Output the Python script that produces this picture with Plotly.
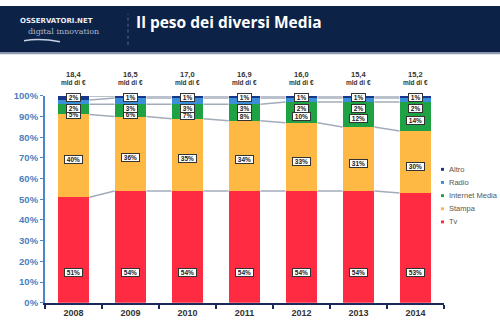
import plotly.graph_objects as go

years = ["2008", "2009", "2010", "2011", "2012", "2013", "2014"]
totals = ["18,4", "16,5", "17,0", "16,9", "16,0", "15,4", "15,2"]
tv = [51, 54, 54, 54, 54, 54, 53]
stampa = [40, 36, 35, 34, 33, 31, 30]
internet = [5, 6, 7, 8, 10, 12, 14]
radio = [2, 3, 3, 3, 2, 2, 2]
altro = [2, 1, 1, 1, 1, 1, 1]

series = [
    ("Tv", tv, "#ff2b42"),
    ("Stampa", stampa, "#fdb944"),
    ("Internet Media", internet, "#1ea243"),
    ("Radio", radio, "#3b8ed8"),
    ("Altro", altro, "#17378b"),
]

W, H = 500, 328
BARW = 0.56
xs = list(range(len(years)))
YD0, YD1 = (H - 307) / H, (H - 93) / H


def ypaper(v):
    return YD0 + v / 100 * (YD1 - YD0)


fig = go.Figure()

for name, vals, col in series:
    fig.add_trace(go.Bar(x=xs, y=vals, name=name, width=BARW,
                         marker=dict(color=col, line=dict(width=0)),
                         hoverinfo="skip", showlegend=False))

cums = []
run = [0] * len(years)
for name, vals, col in series:
    run = [a + b for a, b in zip(run, vals)]
    cums.append(list(run))

lx, ly = [], []
for lev in cums:
    for i in range(len(years) - 1):
        lx += [xs[i] + BARW / 2, xs[i + 1] - BARW / 2, None]
        ly += [lev[i], lev[i + 1], None]
fig.add_trace(go.Scatter(x=lx, y=ly, mode="lines", showlegend=False, cliponaxis=False,
                         line=dict(color="#a3abbb", width=1.5), hoverinfo="skip"))

ann = []
lab_font = dict(family="Liberation Sans, Arial", size=6.5, color="#222222")
NB = "\u00a0"


def lab(x, y, v):
    ann.append(dict(x=x, y=ypaper(y), xref="x", yref="paper", text=f"{NB}<b>{v}%</b>{NB}", showarrow=False,
                    font=lab_font, bgcolor="white", bordercolor="#333333",
                    borderwidth=1, borderpad=0))


for i in xs:
    lab(i, 12.6, tv[i])
    lab(i, tv[i] + stampa[i] / 2 - 2, stampa[i])
    lab(i, min(cums[1][i] + internet[i] / 2 - 2, 90.8), internet[i])
    lab(i, 96.2, radio[i])
    lab(i, 101.5, altro[i])
    ann.append(dict(x=i, y=ypaper(113.6), xref="x", yref="paper", text=f"<b>{totals[i]}</b>",
                    showarrow=False, font=dict(family="Liberation Sans, Arial", size=7.5, color="#333333")))
    ann.append(dict(x=i, y=ypaper(109.2), xref="x", yref="paper", text="<b>mld di €</b>",
                    showarrow=False, font=dict(family="Liberation Sans, Arial", size=6.5, color="#333333")))

shapes = [
    dict(type="rect", xref="paper", yref="paper", x0=0, x1=1, y0=1 - 48 / H, y1=1,
         fillcolor="#0c2247", line=dict(width=0), layer="below"),
    dict(type="rect", xref="paper", yref="paper", x0=0, x1=1, y0=1 - 50 / H, y1=1 - 48 / H,
         fillcolor="#8e9cb3", line=dict(width=0), layer="below"),
    dict(type="line", xref="paper", yref="paper", x0=128 / W, x1=128 / W, y0=1 - 40 / H, y1=1 - 8 / H,
         line=dict(color="#5d6d90", width=1, dash="dot")),
    dict(type="path", xref="paper", yref="paper",
         path=f"M {24/W},{1-36/H} Q {40/W},{1-33/H} {60/W},{1-37/H}",
         line=dict(color="#c8d2e6", width=1.5)),
]

# manual legend (Altro on top)
for k, (name, vals, col) in enumerate(reversed(series)):
    yc = 169 + k * 13.6
    shapes.append(dict(type="rect", xref="paper", yref="paper",
                       x0=441 / W, x1=444 / W, y0=1 - (yc + 1.5) / H, y1=1 - (yc - 1.5) / H,
                       fillcolor=col, line=dict(width=0)))
    ann.append(dict(x=447 / W, y=1 - yc / H, xref="paper", yref="paper", xanchor="left", yanchor="middle",
                    text=name, showarrow=False,
                    font=dict(family="Liberation Sans, Arial", size=7.5, color="#555555")))

# header texts
ann.append(dict(x=134 / W, y=1 - 17 / H, xref="paper", yref="paper", xanchor="left", yanchor="middle",
                text="<b>Il peso dei diversi Media</b>", showarrow=False,
                font=dict(family="Open Sans", size=15.5, color="white")))
ann.append(dict(x=18 / W, y=1 - 16 / H, xref="paper", yref="paper", xanchor="left", yanchor="middle",
                text="<b>OSSERVATORI.NET</b>", showarrow=False,
                font=dict(family="DejaVu Sans", size=7, color="#e8ecf4")))
ann.append(dict(x=26 / W, y=1 - 26 / H, xref="paper", yref="paper", xanchor="left", yanchor="middle",
                text="digital innovation", showarrow=False,
                font=dict(family="DejaVu Serif", size=8, color="#aab8d6")))

fig.update_layout(
    width=W, height=H, autosize=False,
    margin=dict(l=0, r=0, t=0, b=0),
    paper_bgcolor="white", plot_bgcolor="white",
    barmode="stack",
    showlegend=False,
    xaxis=dict(domain=[45 / W, 444 / W], range=[-0.5, 6.5],
               tickvals=xs, ticktext=[f"<b>{y}</b>" for y in years], ticks="", ticklen=0,
               tickfont=dict(family="Liberation Sans, Arial", size=9, color="#333333"),
               showline=True, linecolor="#1b2a5a", linewidth=2, showgrid=False, zeroline=False,
               minor=dict(tickvals=[i - 0.5 for i in range(len(years) + 1)], ticks="outside",
                          ticklen=4, tickcolor="#1b2a5a", tickwidth=2)),
    yaxis=dict(domain=[YD0, YD1], range=[0, 100],
               tickvals=list(range(0, 101, 10)), ticktext=[f"<b>{v}%</b>" for v in range(0, 101, 10)],
               tickfont=dict(family="Liberation Sans, Arial", size=9.5, color="#4a7fc0"),
               ticks="outside", ticklen=3, tickcolor="#4a86c8",
               showline=True, linecolor="#4a86c8", linewidth=2, showgrid=False, zeroline=False),
    annotations=ann, shapes=shapes,
)

fig.write_html("out.html")
